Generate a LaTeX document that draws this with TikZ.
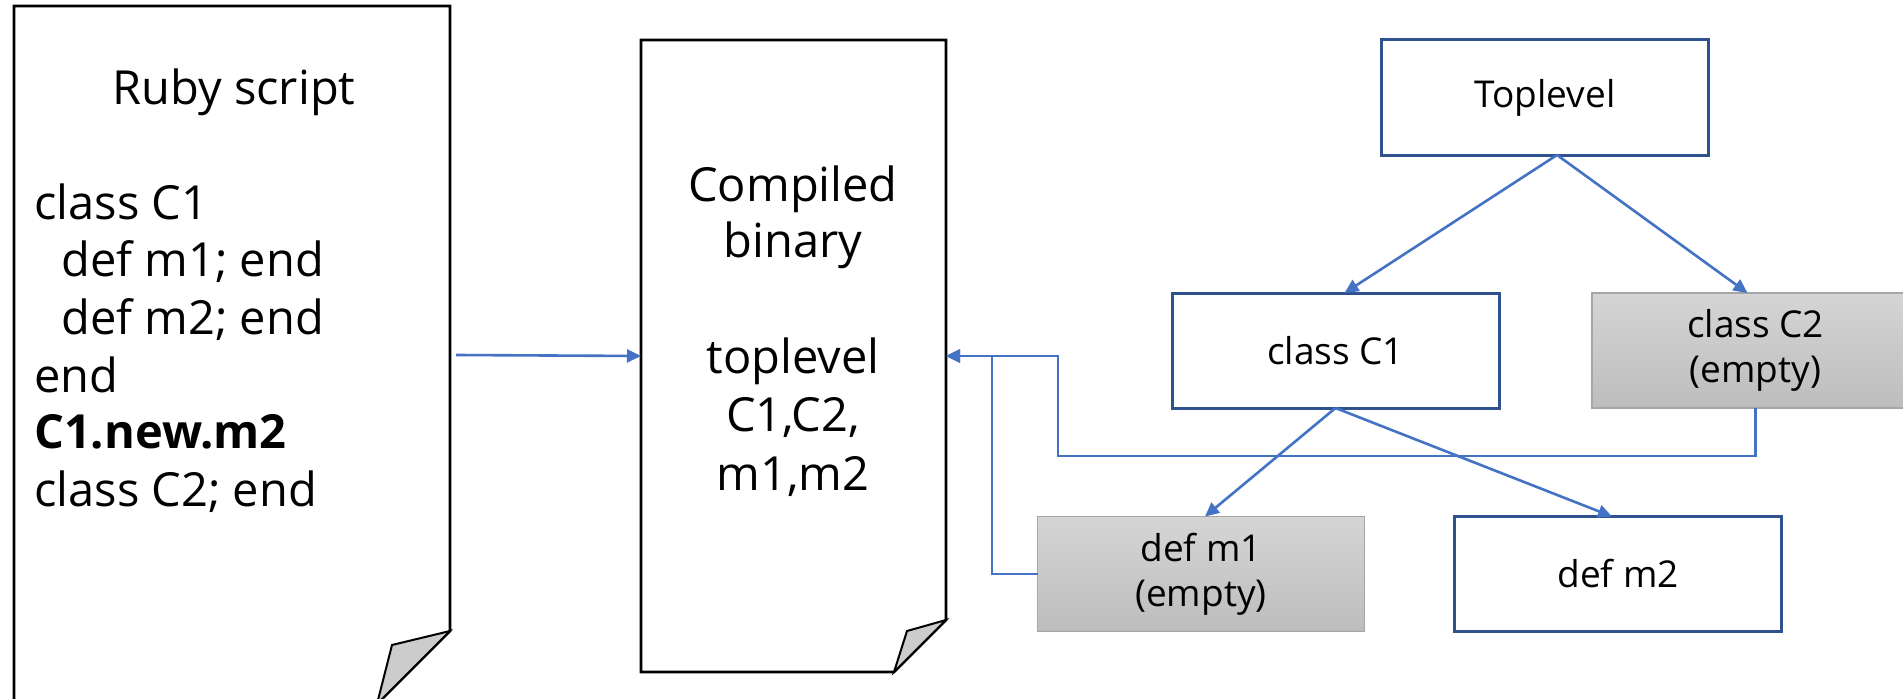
\documentclass[tikz,border=0pt]{standalone}
\usepackage{fontspec}
\setmainfont{Open Sans}
\usetikzlibrary{arrows.meta,calc}
\definecolor{linkblue}{HTML}{4472C4}
\definecolor{boxblue}{HTML}{2F528F}
\definecolor{foldgray}{HTML}{CCCCCC}
\definecolor{edgegray}{HTML}{A6A6A6}
\definecolor{shadetop}{HTML}{D5D5D5}
\definecolor{shadebot}{HTML}{BDBDBD}
\begin{document}
\begin{tikzpicture}[x=1bp,y=-1bp,
  conn/.style={draw=linkblue, line width=2.6bp, -{Triangle[length=14bp,width=13bp]}},
  paper/.style={draw=black, line width=2.6bp, fill=white, line join=miter},
  flap/.style={draw=black, line width=2bp, fill=foldgray, line join=miter},
  sheet/.style={inner sep=0, outer sep=0},
  bigtext/.style={inner sep=0, font=\fontsize{47bp}{56bp}\selectfont},
  codeline/.style={bigtext, anchor=base west},
  binline/.style={bigtext, anchor=base},
  treebox/.style={inner sep=0, outer sep=0, minimum width=327bp, minimum height=115bp,
    align=center, font=\fontsize{37bp}{45bp}\selectfont},
  plainbox/.style={treebox, draw=boxblue, line width=3bp, fill=white},
  emptybox/.style={treebox, draw=edgegray, line width=1.2bp, top color=shadetop, bottom color=shadebot}
]
\useasboundingbox (0,0) rectangle (1903,699);
\fill[white] (0,0) rectangle (1903,699);

% source document with folded corner
\node[sheet, minimum width=436bp, minimum height=698bp] (ruby) at (232,355) {};
\draw[paper] (ruby.north west) -- (ruby.north east) -- ($(ruby.south east)+(0,-73)$)
  -- ($(ruby.south east)+(-73,0)$) -- (ruby.south west) -- cycle;
\draw[flap] ($(ruby.south east)+(0,-73)$) -- ($(ruby.south east)+(-58,-59)$)
  -- ($(ruby.south east)+(-73,0)$) -- cycle;

\node[binline] (rubytitle) at (234,105) {Ruby script};
\node[codeline] (code1) at (34,219) {class C1};
\node[codeline] (code2) at (61,276) {def m1; end};
\node[codeline] (code3) at (61,334) {def m2; end};
\node[codeline] (code4) at (34,392) {end};
\node[codeline] (code5) at (34,448) {\bfseries C1.new.m2};
\node[codeline] (code6) at (34,506) {class C2; end};

% compiled document with folded corner
\node[sheet, minimum width=305bp, minimum height=632bp] (bin) at (793.5,356) {};
\draw[paper] (bin.north west) -- (bin.north east) -- ($(bin.south east)+(0,-52)$)
  -- ($(bin.south east)+(-52,0)$) -- (bin.south west) -- cycle;
\draw[flap] ($(bin.south east)+(0,-52)$) -- ($(bin.south east)+(-39,-41)$)
  -- ($(bin.south east)+(-52,0)$) -- cycle;

\node[binline] (bin1) at (793,201) {Compiled};
\node[binline] (bin2) at (793,257) {binary};
\node[binline] (bin3) at (793,373) {toplevel};
\node[binline] (bin4) at (793,431) {C1,C2,};
\node[binline] (bin5) at (793,490) {m1,m2};

% compilation arrow
\draw[conn] ([xshift=6bp]ruby.east) -- (bin.west);

% tree of scopes
\node[plainbox] (top) at (1545,97.5) {Toplevel};
\node[plainbox] (c1) at (1335.5,350.5) {class C1};
\node[emptybox] (c2) at (1755.5,350.5) {class C2\\(empty)};
\node[emptybox] (m1) at (1201,574) {def m1\\(empty)};
\node[plainbox] (m2) at (1618,574) {def m2};

\draw[conn] ([xshift=12bp]top.south) -- ([xshift=9bp]c1.north);
\draw[conn] ([xshift=12bp]top.south) -- ([xshift=-8bp]c2.north);
\draw[conn] (c1.south) -- ([xshift=4bp]m1.north);
\draw[conn] (c1.south) -- ([xshift=-6bp]m2.north);

% empty scopes fed back into the binary
\coordinate (j1) at (992,356);
\coordinate (j2) at (1058,356);
\draw[conn] (m1.west) -| (j1) -- (bin.east);
\draw[conn] (c2.south) -- ++(0,48) -| (j2) -- (bin.east);
\end{tikzpicture}
\end{document}
